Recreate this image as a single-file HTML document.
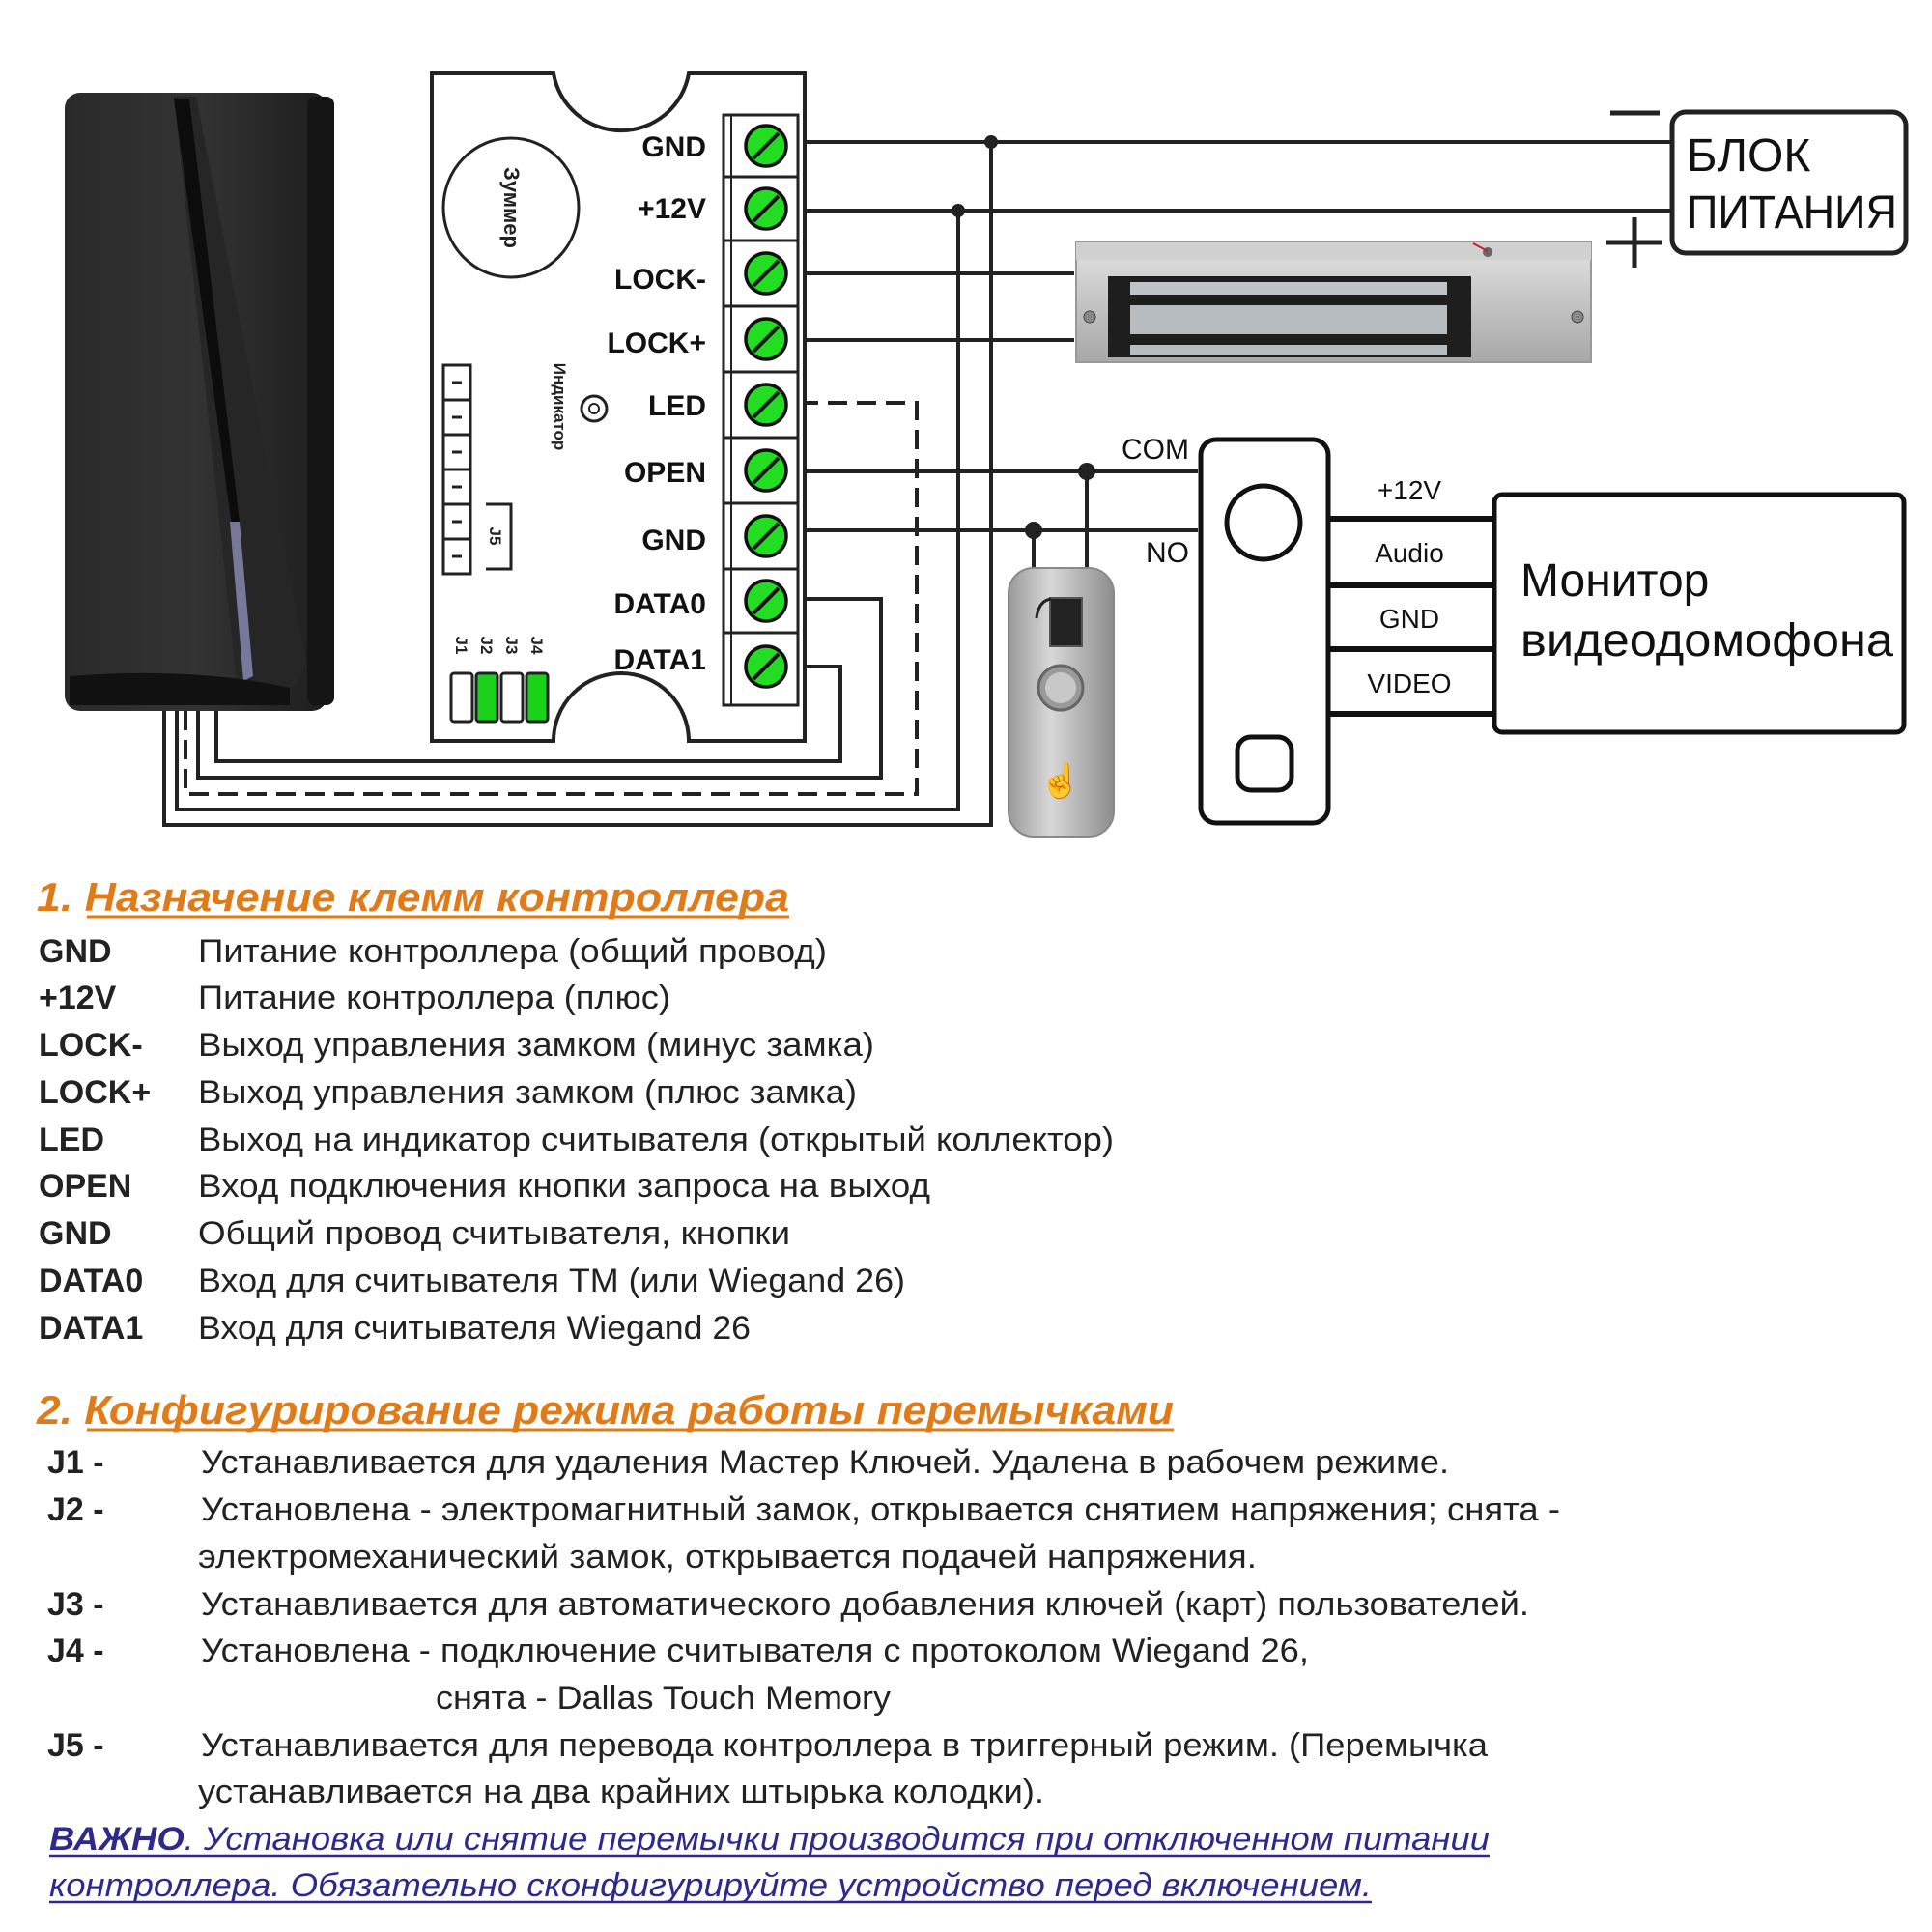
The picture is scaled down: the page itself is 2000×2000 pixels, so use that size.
<!DOCTYPE html>
<html><head><meta charset="utf-8"><style>html,body{margin:0;padding:0;background:#fff}svg{display:block}</style></head>
<body>
<svg width="2000" height="2000" viewBox="0 0 2000 2000" xmlns="http://www.w3.org/2000/svg" font-family="Liberation Sans, sans-serif">
<defs>
<linearGradient id="silver" x1="0" y1="0" x2="0" y2="1"><stop offset="0" stop-color="#e4e4e4"/><stop offset="0.5" stop-color="#c4c4c4"/><stop offset="1" stop-color="#a8a8a8"/></linearGradient>
<linearGradient id="btn" x1="0" y1="0" x2="1" y2="0"><stop offset="0" stop-color="#9a9a9a"/><stop offset="0.4" stop-color="#d8d8d8"/><stop offset="1" stop-color="#8d8d8d"/></linearGradient>
<linearGradient id="rdr" x1="0" y1="0" x2="1" y2="0"><stop offset="0" stop-color="#2a2a2a"/><stop offset="0.5" stop-color="#333"/><stop offset="1" stop-color="#1e1e1e"/></linearGradient>
</defs>

<!-- Reader -->
<rect x="67" y="96" width="272" height="640" rx="16" fill="url(#rdr)"/>
<rect x="318" y="100" width="28" height="630" rx="8" fill="#151515"/>
<path d="M180 100 L203 100 L318 690 L300 715 L75 710 L245 705 Z" fill="#262626"/>
<path d="M180 102 L196 102 L248 540 L240 545 Z" fill="#0c0c0c"/>
<path d="M238 540 L248 540 L262 700 L252 705 Z" fill="#8d8fb8" opacity="0.8"/>
<path d="M72 700 Q200 690 300 712 L300 730 L72 730 Z" fill="#111"/>

<!-- wires from reader -->
<g fill="none" stroke="#222" stroke-width="4">
<polyline points="170,736 170,854 1026,854 1026,147"/>
<polyline points="183,736 183,838 992,838 992,218"/>
<polyline points="205,736 205,805 912,805 912,620 826,620"/>
<polyline points="224,736 224,788 870,788 870,690 826,690"/>
<polyline points="192,736 192,822 949,822 949,417 826,417" stroke-dasharray="20,10"/>
<line x1="826" y1="147" x2="1729" y2="147"/>
<line x1="826" y1="218" x2="1729" y2="218"/>
<line x1="826" y1="283" x2="1112" y2="283"/>
<line x1="826" y1="352" x2="1112" y2="352"/>
<line x1="826" y1="488" x2="1240" y2="488"/>
<line x1="826" y1="549" x2="1240" y2="549"/>
<line x1="1125" y1="488" x2="1125" y2="590"/>
<line x1="1070" y1="549" x2="1070" y2="590"/>
</g>
<g fill="#222"><circle cx="1026" cy="147" r="7"/><circle cx="992" cy="218" r="7"/><circle cx="1125" cy="488" r="9"/><circle cx="1070" cy="549" r="9"/></g>

<!-- Controller -->
<path d="M447 76 L573 76 A71 71 0 0 0 713 76 L833 76 L833 767 L713 767 A70 70 0 0 0 573 767 L447 767 Z" fill="#fff" stroke="#222" stroke-width="4"/>
<ellipse cx="529" cy="215" rx="70" ry="72" fill="none" stroke="#222" stroke-width="3"/>
<text transform="translate(522,215) rotate(90)" text-anchor="middle" font-weight="bold" font-size="22" fill="#222">Зуммер</text>
<text transform="translate(574,421) rotate(90)" text-anchor="middle" font-weight="bold" font-size="17" fill="#222">Индикатор</text>
<circle cx="615" cy="423" r="13" fill="none" stroke="#222" stroke-width="3"/><circle cx="615" cy="423" r="5" fill="none" stroke="#222" stroke-width="2"/>
<!-- J5 strip -->
<g stroke="#222" stroke-width="3" fill="none">
<rect x="459" y="378" width="28" height="216"/>
<line x1="459" y1="414" x2="487" y2="414"/><line x1="459" y1="450" x2="487" y2="450"/><line x1="459" y1="486" x2="487" y2="486"/><line x1="459" y1="522" x2="487" y2="522"/><line x1="459" y1="558" x2="487" y2="558"/>
<polyline points="503,522 529,522 529,589 503,589"/>
</g>
<g stroke="#222" stroke-width="3"><line x1="468" y1="396" x2="478" y2="396"/><line x1="468" y1="432" x2="478" y2="432"/><line x1="468" y1="468" x2="478" y2="468"/><line x1="468" y1="504" x2="478" y2="504"/><line x1="468" y1="540" x2="478" y2="540"/><line x1="468" y1="576" x2="478" y2="576"/></g>
<text transform="translate(507,555) rotate(90)" text-anchor="middle" font-weight="bold" font-size="17" fill="#222">J5</text>
<!-- jumpers -->
<g stroke="#222" stroke-width="3">
<rect x="467" y="697" width="22" height="50" rx="3" fill="#fff"/>
<rect x="493" y="697" width="22" height="50" rx="3" fill="#19d219"/>
<rect x="519" y="697" width="22" height="50" rx="3" fill="#fff"/>
<rect x="545" y="697" width="22" height="50" rx="3" fill="#19d219"/>
</g>
<g font-weight="bold" font-size="17" fill="#222" text-anchor="middle">
<text transform="translate(472,668) rotate(90)">J1</text><text transform="translate(498,668) rotate(90)">J2</text><text transform="translate(524,668) rotate(90)">J3</text><text transform="translate(550,668) rotate(90)">J4</text>
</g>
<!-- terminals -->
<rect x="749" y="119" width="77" height="611" fill="#fff" stroke="#222" stroke-width="3"/>
<line x1="757" y1="119" x2="757" y2="730" stroke="#222" stroke-width="2"/>
<g stroke="#222" stroke-width="3">
<line x1="749" y1="183" x2="826" y2="183"/><line x1="749" y1="249" x2="826" y2="249"/><line x1="749" y1="317" x2="826" y2="317"/><line x1="749" y1="385" x2="826" y2="385"/><line x1="749" y1="453" x2="826" y2="453"/><line x1="749" y1="521" x2="826" y2="521"/><line x1="749" y1="589" x2="826" y2="589"/><line x1="749" y1="655" x2="826" y2="655"/>
</g>
<g stroke="#111" stroke-width="3.5" fill="#22dd22">
<circle cx="793" cy="151" r="21"/><circle cx="793" cy="216" r="21"/><circle cx="793" cy="283" r="21"/><circle cx="793" cy="351" r="21"/><circle cx="793" cy="419" r="21"/><circle cx="793" cy="487" r="21"/><circle cx="793" cy="555" r="21"/><circle cx="793" cy="622" r="21"/><circle cx="793" cy="690" r="21"/>
</g>
<g stroke="#111" stroke-width="4">
<line x1="780" y1="164" x2="806" y2="138"/><line x1="780" y1="229" x2="806" y2="203"/><line x1="780" y1="296" x2="806" y2="270"/><line x1="780" y1="364" x2="806" y2="338"/><line x1="780" y1="432" x2="806" y2="406"/><line x1="780" y1="500" x2="806" y2="474"/><line x1="780" y1="568" x2="806" y2="542"/><line x1="780" y1="635" x2="806" y2="609"/><line x1="780" y1="703" x2="806" y2="677"/>
</g>
<g font-weight="bold" font-size="30" fill="#111" text-anchor="end">
<text x="731" y="162">GND</text><text x="731" y="226">+12V</text><text x="731" y="299">LOCK-</text><text x="731" y="365">LOCK+</text><text x="731" y="430">LED</text><text x="731" y="499">OPEN</text><text x="731" y="569">GND</text><text x="731" y="635">DATA0</text><text x="731" y="693">DATA1</text>
</g>

<!-- Power supply -->
<rect x="1731" y="116" width="242" height="146" rx="14" fill="#fff" stroke="#222" stroke-width="5"/>
<text x="1746" y="177" font-size="48" fill="#111">БЛОК</text>
<text x="1746" y="236" font-size="48" fill="#111" textLength="218" lengthAdjust="spacingAndGlyphs">ПИТАНИЯ</text>
<g stroke="#222" stroke-width="5"><line x1="1667" y1="117" x2="1718" y2="117"/><line x1="1663" y1="251" x2="1721" y2="251"/><line x1="1692" y1="225" x2="1692" y2="277"/></g>

<!-- Mag lock -->
<rect x="1114" y="251" width="533" height="124" fill="url(#silver)" stroke="#999" stroke-width="2"/>
<rect x="1114" y="251" width="533" height="18" fill="#d0d0d0"/>
<rect x="1147" y="286" width="376" height="84" fill="#1e1e1e"/>
<rect x="1170" y="292" width="328" height="13" fill="#bfc3c7"/>
<rect x="1170" y="316" width="328" height="30" fill="#b7bcc1"/>
<rect x="1170" y="357" width="328" height="11" fill="#b7bcc1"/>
<circle cx="1128" cy="328" r="6" fill="#888" stroke="#444"/><circle cx="1633" cy="328" r="6" fill="#888" stroke="#444"/>
<circle cx="1540" cy="261" r="5" fill="#666"/><line x1="1525" y1="252" x2="1540" y2="260" stroke="#c22" stroke-width="2"/>

<!-- Exit button -->
<rect x="1044" y="588" width="109" height="278" rx="26" fill="url(#btn)" stroke="#888" stroke-width="2"/>
<rect x="1087" y="619" width="33" height="50" fill="#222" stroke="#555" stroke-width="2"/>
<path d="M1073 640 Q1075 622 1088 620" fill="none" stroke="#222" stroke-width="3"/>
<circle cx="1098" cy="712" r="23" fill="#9a9a9a" stroke="#666" stroke-width="3"/>
<circle cx="1098" cy="712" r="16" fill="#c8c8c8"/>
<text x="1098" y="820" text-anchor="middle" font-size="34" fill="#777">☝</text>

<!-- Intercom panel -->
<rect x="1243" y="455" width="132" height="397" rx="16" fill="#fff" stroke="#111" stroke-width="5"/>
<circle cx="1308" cy="541" r="38" fill="none" stroke="#111" stroke-width="5"/>
<rect x="1281" y="763" width="56" height="55" rx="14" fill="none" stroke="#111" stroke-width="5"/>
<text x="1231" y="475" text-anchor="end" font-size="30" fill="#111">COM</text>
<text x="1231" y="582" text-anchor="end" font-size="30" fill="#111">NO</text>
<g stroke="#111" stroke-width="6"><line x1="1377" y1="537" x2="1545" y2="537"/><line x1="1377" y1="606" x2="1545" y2="606"/><line x1="1377" y1="672" x2="1545" y2="672"/><line x1="1377" y1="739" x2="1545" y2="739"/></g>
<g font-size="28" fill="#111" text-anchor="middle"><text x="1459" y="517">+12V</text><text x="1459" y="582">Audio</text><text x="1459" y="650">GND</text><text x="1459" y="717">VIDEO</text></g>
<rect x="1547" y="512" width="424" height="246" rx="8" fill="#fff" stroke="#111" stroke-width="5"/>
<text x="1574" y="617" font-size="48" fill="#111">Монитор</text>
<text x="1574" y="679" font-size="48" fill="#111" textLength="386" lengthAdjust="spacingAndGlyphs">видеодомофона</text>

<!-- Section 1 -->
<text x="38" y="943" font-weight="bold" font-style="italic" font-size="42" fill="#e07b1a" textLength="779" lengthAdjust="spacingAndGlyphs">1. Назначение клемм контроллера</text>
<line x1="90" y1="949" x2="817" y2="949" stroke="#e07b1a" stroke-width="3"/>
<g font-size="34" fill="#222">
<g font-weight="bold">
<text x="40" y="996">GND</text><text x="40" y="1044">+12V</text><text x="40" y="1093">LOCK-</text><text x="40" y="1142">LOCK+</text><text x="40" y="1191">LED</text><text x="40" y="1239">OPEN</text><text x="40" y="1288">GND</text><text x="40" y="1337">DATA0</text><text x="40" y="1386">DATA1</text>
</g>
<text x="205" y="996" textLength="651" lengthAdjust="spacingAndGlyphs">Питание контроллера (общий провод)</text>
<text x="205" y="1044" textLength="489" lengthAdjust="spacingAndGlyphs">Питание контроллера (плюс)</text>
<text x="205" y="1093" textLength="700" lengthAdjust="spacingAndGlyphs">Выход управления замком (минус замка)</text>
<text x="205" y="1142" textLength="682" lengthAdjust="spacingAndGlyphs">Выход управления замком (плюс замка)</text>
<text x="205" y="1191" textLength="948" lengthAdjust="spacingAndGlyphs">Выход на индикатор считывателя (открытый коллектор)</text>
<text x="205" y="1239" textLength="758" lengthAdjust="spacingAndGlyphs">Вход подключения кнопки запроса на выход</text>
<text x="205" y="1288" textLength="613" lengthAdjust="spacingAndGlyphs">Общий провод считывателя, кнопки</text>
<text x="205" y="1337" textLength="732" lengthAdjust="spacingAndGlyphs">Вход для считывателя TM (или Wiegand 26)</text>
<text x="205" y="1386" textLength="572" lengthAdjust="spacingAndGlyphs">Вход для считывателя Wiegand 26</text>
</g>

<!-- Section 2 -->
<text x="38" y="1474" font-weight="bold" font-style="italic" font-size="42" fill="#e07b1a" textLength="1177" lengthAdjust="spacingAndGlyphs">2. Конфигурирование режима работы перемычками</text>
<line x1="90" y1="1480" x2="1215" y2="1480" stroke="#e07b1a" stroke-width="3"/>
<g font-size="34" fill="#222">
<g font-weight="bold"><text x="49" y="1525">J1 -</text><text x="49" y="1574">J2 -</text><text x="49" y="1672">J3 -</text><text x="49" y="1720">J4 -</text><text x="49" y="1818">J5 -</text></g>
<text x="208" y="1525" textLength="1292" lengthAdjust="spacingAndGlyphs">Устанавливается для удаления Мастер Ключей. Удалена в рабочем режиме.</text>
<text x="208" y="1574" textLength="1407" lengthAdjust="spacingAndGlyphs">Установлена - электромагнитный замок, открывается снятием напряжения; снята -</text>
<text x="205" y="1623" textLength="1096" lengthAdjust="spacingAndGlyphs">электромеханический замок, открывается подачей напряжения.</text>
<text x="208" y="1672" textLength="1375" lengthAdjust="spacingAndGlyphs">Устанавливается для автоматического добавления ключей (карт) пользователей.</text>
<text x="208" y="1720" textLength="1147" lengthAdjust="spacingAndGlyphs">Установлена - подключение считывателя с протоколом Wiegand 26,</text>
<text x="451" y="1769" textLength="471" lengthAdjust="spacingAndGlyphs">снята - Dallas Touch Memory</text>
<text x="208" y="1818" textLength="1332" lengthAdjust="spacingAndGlyphs">Устанавливается для перевода контроллера в триггерный режим. (Перемычка</text>
<text x="205" y="1866" textLength="876" lengthAdjust="spacingAndGlyphs">устанавливается на два крайних штырька колодки).</text>
</g>
<g font-size="34" font-style="italic" fill="#2e2a8c">
<text x="51" y="1915" textLength="1491" lengthAdjust="spacingAndGlyphs"><tspan font-weight="bold">ВАЖНО</tspan>. Установка или снятие перемычки производится при отключенном питании</text>
<text x="51" y="1963" textLength="1369" lengthAdjust="spacingAndGlyphs">контроллера. Обязательно сконфигурируйте устройство перед включением.</text>
</g>
<line x1="51" y1="1921" x2="1542" y2="1921" stroke="#2e2a8c" stroke-width="2.5"/>
<line x1="51" y1="1969" x2="1420" y2="1969" stroke="#2e2a8c" stroke-width="2.5"/>
</svg>
</body></html>
